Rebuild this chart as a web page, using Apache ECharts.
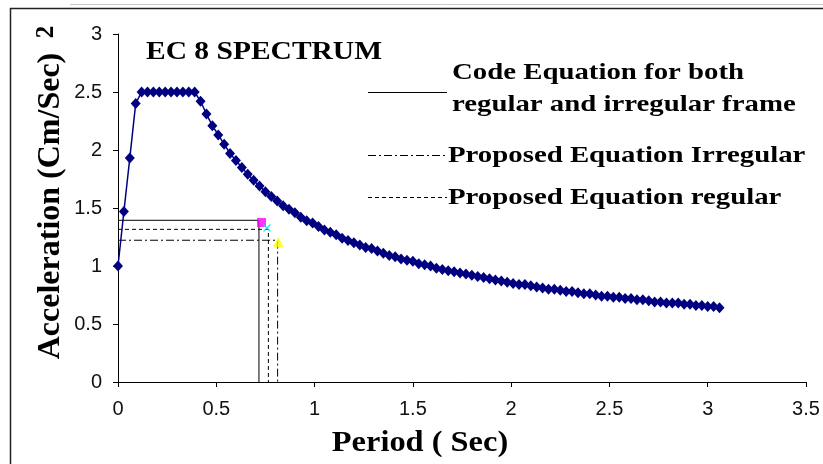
<!DOCTYPE html>
<html><head><meta charset="utf-8">
<script src="https://cdn.jsdelivr.net/npm/echarts@6/dist/echarts.min.js"></script>
<style>html,body{margin:0;padding:0;background:#fff}#c{width:823px;height:464px}</style>
</head><body><div id="c"></div>
<script>
// EC 8 spectrum: period (s) and acceleration values
const periods = [0,0.03,0.06,0.09,0.12,0.15,0.18,0.21,0.24,0.27,0.3,0.33,0.36,0.39,
  0.42,0.45,0.48,0.51,0.54,0.57,0.6,0.63,0.66,0.69,
  0.72,0.75,0.78,0.81,0.84,0.87,0.9,0.93,0.96,0.99,
  1.02,1.05,1.08,1.11,1.14,1.17,1.2,1.23,1.26,1.29,
  1.32,1.35,1.38,1.41,1.44,1.47,1.5,1.53,1.56,1.59,
  1.62,1.65,1.68,1.71,1.74,1.77,1.8,1.83,1.86,1.89,
  1.92,1.95,1.98,2.01,2.04,2.07,2.1,2.13,2.16,2.19,
  2.22,2.25,2.28,2.31,2.34,2.37,2.4,2.43,2.46,2.49,
  2.52,2.55,2.58,2.61,2.64,2.67,2.7,2.73,2.76,2.79,
  2.82,2.85,2.88,2.91,2.94,2.97,3.0,3.03,3.06];
const accel = [1.00,1.47,1.93,2.40,2.5,2.5,2.5,2.5,2.5,2.5,2.5,2.5,2.5,2.5,
  2.42,2.31,2.21,2.13,2.05,1.97,1.91,1.85,1.79,1.74,
  1.69,1.64,1.60,1.56,1.52,1.49,1.46,1.42,1.39,1.37,
  1.34,1.31,1.29,1.27,1.24,1.22,1.20,1.18,1.16,1.15,
  1.13,1.11,1.09,1.08,1.06,1.05,1.04,1.02,1.01,1.00,
  0.98,0.97,0.96,0.95,0.94,0.93,0.92,0.91,0.90,0.89,
  0.88,0.87,0.86,0.85,0.84,0.84,0.83,0.82,0.81,0.80,
  0.80,0.79,0.78,0.78,0.77,0.76,0.76,0.75,0.74,0.74,
  0.73,0.73,0.72,0.72,0.71,0.71,0.70,0.69,0.69,0.68,
  0.68,0.68,0.67,0.67,0.66,0.66,0.65,0.65,0.64];

// Drop lines: [code, proposed irregular, proposed regular]
const dropNames = ['Code Equation', 'Proposed Equation Irregular', 'Proposed Equation regular'];
const dropPeriods = [0.717, 0.812, 0.765];
const dropAccels = [1.394, 1.222, 1.316];
const markerPeriods = [0.73, 0.816, 0.758];
const markerAccels = [1.375, 1.207, 1.328];

const titleText = 'EC 8 SPECTRUM';
const xTitle = 'Period ( Sec)';
const yTitle = 'Acceleration (Cm/Sec)';
const yTitleSup = '2';
const legendLines = ['Code Equation for both', 'regular and irregular frame', 'Proposed Equation Irregular', 'Proposed Equation regular'];

const dashStyles = ['solid', [8,3,2,3], [4,3]];
const markerSymbols = ['rect', 'triangle', 'path://M0,0L10,10M10,0L0,10'];
const markerColors = ['#ff00ff', '#ffff00', '#00e5ee'];

const chart = echarts.init(document.getElementById('c'), null, {renderer:'canvas'});
const serif = '"Liberation Serif","Times New Roman",serif';
const tickFont = '"Liberation Sans",Arial,sans-serif';

const series = [];
for (let i = 0; i < 3; i++) {
  series.push({
    name: dropNames[i], type: 'line', symbol: 'none', silent: true, z: 2,
    data: [[0, dropAccels[i]], [dropPeriods[i], dropAccels[i]], [dropPeriods[i], 0]],
    lineStyle: {color: '#000', width: 1, type: dashStyles[i]}
  });
}
series.push({
  name: 'EC 8', type: 'line', z: 3,
  data: periods.map((p, i) => [p, accel[i]]),
  symbol: 'diamond', symbolSize: [10, 11], showAllSymbol: true,
  itemStyle: {color: '#000080'},
  lineStyle: {color: '#000080', width: 1.5}
});
for (let i = 0; i < 3; i++) {
  series.push({
    name: dropNames[i] + ' point', type: 'scatter', z: 4,
    data: [[markerPeriods[i], markerAccels[i]]],
    symbol: markerSymbols[i], symbolSize: i === 2 ? 7 : (i === 1 ? 11 : 9),
    itemStyle: i === 2 ? {color: 'none', borderColor: markerColors[i], borderWidth: 1.5} : {color: markerColors[i]}
  });
}

const g = [];
// frame
g.push({type:'line', shape:{x1:70,y1:4.5,x2:823,y2:4.5}, style:{stroke:'#c8c8c8', lineWidth:1}});
g.push({type:'line', shape:{x1:10,y1:8.5,x2:823,y2:8.5}, style:{stroke:'#222', lineWidth:1.5}});
g.push({type:'line', shape:{x1:10.5,y1:8,x2:10.5,y2:464}, style:{stroke:'#222', lineWidth:1.5}});
// title
g.push({type:'text', x:146, y:53, scaleX:1.18, style:{text:titleText, font:'bold 25px ' + serif, fill:'#000', verticalAlign:'middle'}});
// axis titles
g.push({type:'text', x:420, y:443, scaleX:1.08, style:{text:xTitle, font:'bold 30px ' + serif, fill:'#000', align:'center', verticalAlign:'middle'}});
g.push({type:'text', x:51, y:206, rotation:Math.PI/2, style:{text:yTitle, font:'bold 32px ' + serif, fill:'#000', align:'center', verticalAlign:'middle'}});
g.push({type:'text', x:47, y:32, rotation:Math.PI/2, style:{text:yTitleSup, font:'bold 25px ' + serif, fill:'#000', align:'center', verticalAlign:'middle'}});
// legend
const legY = [92, 155, 197];
for (let i = 0; i < 3; i++) {
  g.push({type:'line', shape:{x1:368, y1:legY[i]+0.5, x2:447, y2:legY[i]+0.5},
    style:{stroke:'#000', lineWidth:1, lineDash: i === 0 ? null : dashStyles[i]}});
}
const legTextX = [452, 452, 448, 448];
const legTextY = [73, 105, 156, 198];
for (let i = 0; i < 4; i++) {
  g.push({type:'text', x:legTextX[i], y:legTextY[i], scaleX:1.2,
    style:{text:legendLines[i], font:'bold 24px ' + serif, fill:'#000', verticalAlign:'middle'}});
}

chart.setOption({
  animation: false,
  backgroundColor: '#fff',
  grid: {left:118, top:34, width:688, height:348, containLabel:false},
  xAxis: {type:'value', min:0, max:3.5, interval:0.5,
    axisLine:{show:true, onZero:false, lineStyle:{color:'#000', width:1}},
    axisTick:{show:true, length:5, lineStyle:{color:'#000'}},
    axisLabel:{fontSize:20, color:'#111', margin:17, fontFamily:tickFont},
    splitLine:{show:false}},
  yAxis: {type:'value', min:0, max:3, interval:0.5,
    axisLine:{show:true, lineStyle:{color:'#000', width:1}},
    axisTick:{show:true, length:5, lineStyle:{color:'#000'}},
    axisLabel:{fontSize:20, color:'#111', margin:16, fontFamily:tickFont},
    splitLine:{show:false}},
  series: series,
  graphic: g
});
</script>
</body></html>
